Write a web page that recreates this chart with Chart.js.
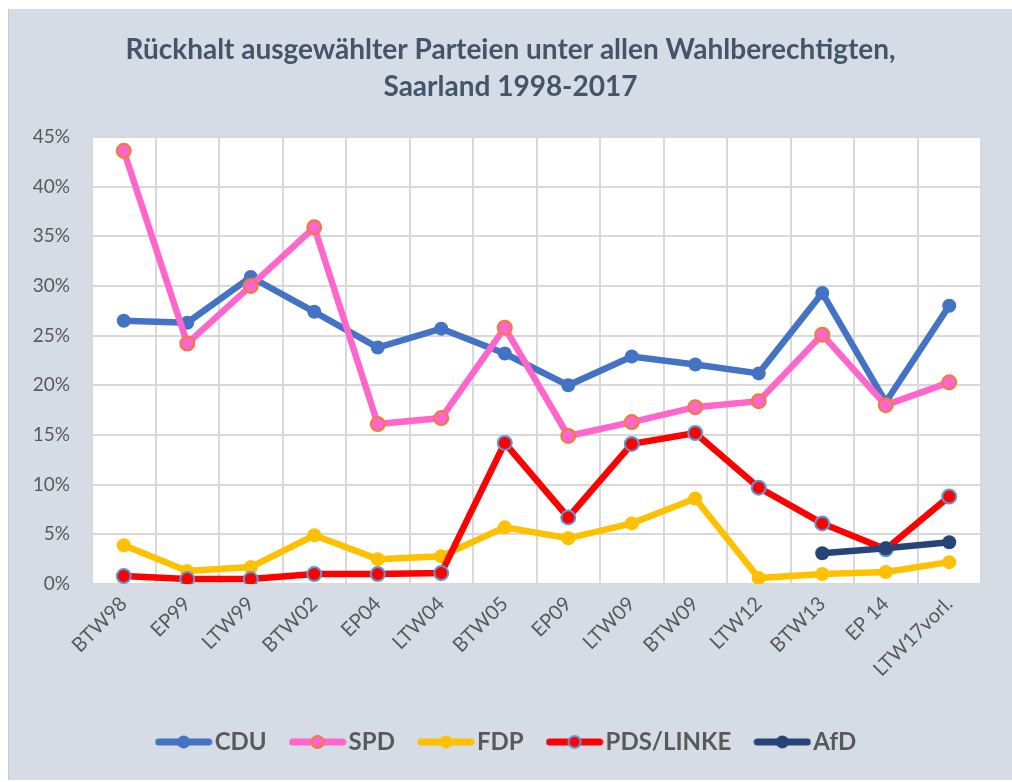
<!DOCTYPE html>
<html>
<head>
<meta charset="utf-8">
<script src="https://cdn.jsdelivr.net/npm/chart.js@4.4.1/dist/chart.umd.min.js"></script>
<style>
  html, body { margin: 0; padding: 0; background: #ffffff; }
  #panel { position: absolute; left: 8px; top: 9px; width: 1004px; height: 771px; background: #d6dce5; border-left: 1px solid #c8c8c8; box-sizing: border-box; }
  #c { display: block; }
</style>
</head>
<body>
<div id="panel"><canvas id="c" width="1003" height="771"></canvas></div>
<script>
const categories = ["BTW98","EP99","LTW99","BTW02","EP04","LTW04","BTW05","EP09","LTW09","BTW09","LTW12","BTW13","EP 14","LTW17vorl."];
const cdu   = [26.5, 26.3, 30.9, 27.4, 23.8, 25.7, 23.2, 20.0, 22.9, 22.1, 21.2, 29.3, 18.3, 28.0];
const spd   = [43.6, 24.2, 30.0, 35.9, 16.1, 16.7, 25.8, 14.9, 16.3, 17.8, 18.4, 25.1, 18.0, 20.3];
const fdp   = [3.9, 1.3, 1.7, 4.9, 2.5, 2.8, 5.7, 4.6, 6.1, 8.6, 0.6, 1.0, 1.2, 2.2];
const linke = [0.8, 0.5, 0.5, 1.0, 1.0, 1.1, 14.2, 6.7, 14.1, 15.2, 9.7, 6.1, 3.5, 8.8];
const afd   = [null, null, null, null, null, null, null, null, null, null, null, 3.1, 3.6, 4.2];
const yTicks = [0, 5, 10, 15, 20, 25, 30, 35, 40, 45];
const titleLines = ["Rückhalt ausgewählter Parteien unter allen Wahlberechtigten,", "Saarland 1998-2017"];

const FONT = "Lato, 'Open Sans', sans-serif";
const GREY = "#595959";

function legendIcon(lineColor, fill, border) {
  const cv = document.createElement('canvas');
  cv.width = 58; cv.height = 16;
  const g = cv.getContext('2d');
  g.strokeStyle = lineColor; g.lineWidth = 7; g.lineCap = 'round';
  g.beginPath(); g.moveTo(4, 8); g.lineTo(54, 8); g.stroke();
  g.beginPath(); g.arc(29, 8, border ? 6 : 6.5, 0, Math.PI * 2);
  g.fillStyle = fill; g.fill();
  if (border) { g.lineWidth = 2; g.strokeStyle = border; g.stroke(); }
  return cv;
}

const series = [
  { label: "CDU", data: cdu, color: "#4472c4", pfill: "#4472c4", pborder: "#4472c4", pbw: 0, r: 7 },
  { label: "SPD", data: spd, color: "#ff66cc", pfill: "#ff66cc", pborder: "#ed7d31", pbw: 2, r: 7 },
  { label: "FDP", data: fdp, color: "#ffc000", pfill: "#ffc000", pborder: "#ffc000", pbw: 0, r: 7 },
  { label: "PDS/LINKE", data: linke, color: "#ff0000", pfill: "#ff0000", pborder: "#5b9bd5", pbw: 2, r: 7 },
  { label: "AfD", data: afd, color: "#264478", pfill: "#264478", pborder: "#264478", pbw: 0, r: 7 }
];

const datasets = series.map((s, i) => ({
  label: s.label,
  data: s.data,
  borderColor: s.color,
  backgroundColor: s.color,
  borderWidth: 6.5,
  pointRadius: s.r,
  pointBackgroundColor: s.pfill,
  pointBorderColor: s.pborder,
  pointBorderWidth: s.pbw,
  tension: 0,
  spanGaps: false,
  order: series.length - i,
  icon: legendIcon(s.color, s.pfill, s.pbw ? s.pborder : null)
}));

const whiteArea = {
  id: 'whiteArea',
  beforeDraw(chart) {
    const { ctx, chartArea: a } = chart;
    ctx.save();
    ctx.fillStyle = '#ffffff';
    ctx.fillRect(a.left, a.top, a.right - a.left, a.bottom - a.top);
    ctx.restore();
  }
};

new Chart(document.getElementById('c'), {
  type: 'line',
  data: { labels: categories, datasets: datasets },
  plugins: [whiteArea],
  options: {
    responsive: false,
    animation: false,
    layout: { padding: { left: 0, right: 0, top: 0, bottom: 16 } },
    plugins: {
      tooltip: { enabled: false },
      title: {
        display: true,
        text: titleLines,
        color: "#44546a",
        font: { family: FONT, size: 28, weight: 'bold', lineHeight: 1.32 },
        padding: { top: 22.5, bottom: 31.5 }
      },
      legend: {
        position: 'bottom',
        labels: {
          usePointStyle: true,
          pointStyleWidth: 38,
          padding: 32,
          color: GREY,
          font: { family: FONT, size: 24, weight: 'bold' },
          generateLabels(chart) {
            return chart.data.datasets.map((d, i) => ({
              text: d.label,
              pointStyle: d.icon,
              fillStyle: d.borderColor,
              strokeStyle: d.borderColor,
              lineWidth: 0,
              hidden: false,
              datasetIndex: i,
              fontColor: GREY
            }));
          }
        }
      }
    },
    scales: {
      x: {
        offset: true,
        grid: { offset: true, color: '#d9d9d9', lineWidth: 2, drawTicks: false },
        border: { display: false },
        ticks: {
          color: GREY,
          font: { family: FONT, size: 20 },
          maxRotation: 45, minRotation: 45,
          autoSkip: false,
          padding: 8
        },
        afterFit(scale) { scale.height = 114; }
      },
      y: {
        min: 0, max: 45,
        grid: { color: '#d9d9d9', lineWidth: 2, drawTicks: false },
        border: { display: false },
        afterBuildTicks(scale) { scale.ticks = yTicks.map(v => ({ value: v })); },
        ticks: {
          color: GREY,
          font: { family: FONT, size: 19 },
          padding: 22,
          callback: v => v + '%'
        },
        afterFit(scale) { scale.width = 83; }
      },
      yRight: {
        position: 'right',
        min: 0, max: 45,
        grid: { display: false, drawOnChartArea: false },
        border: { display: false },
        ticks: { display: false },
        afterFit(scale) { scale.width = 31; }
      }
    }
  }
});
</script>
</body>
</html>
